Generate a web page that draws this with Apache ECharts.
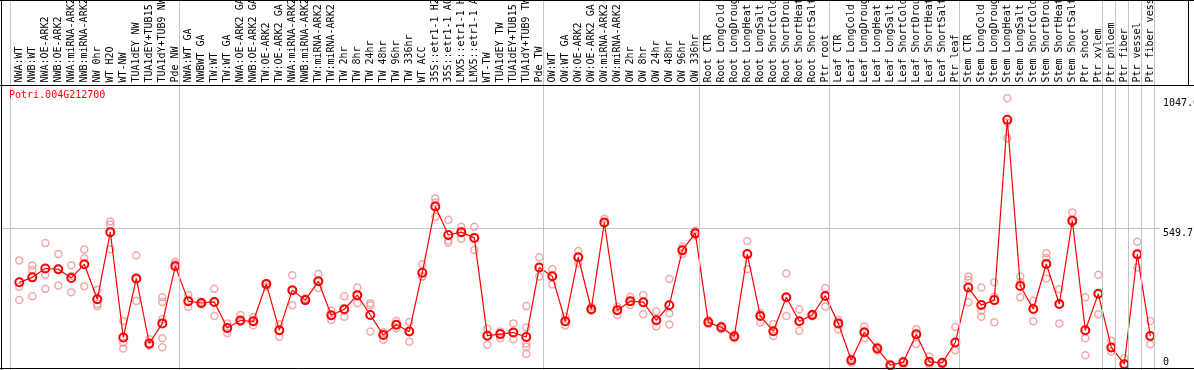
<!DOCTYPE html>
<html><head><meta charset="utf-8">
<script src="https://cdn.jsdelivr.net/npm/echarts@6/dist/echarts.min.js"></script>
<style>html,body{margin:0;padding:0;background:#fff;}#c{width:1194px;height:370px;}</style>
</head><body><div id="c"></div>
<script>
const geneId = 'Potri.004G212700';

const categories = [
  'NWA:WT','NWB:WT','NWA:OE-ARK2','NWB:OE-ARK2','NWA:miRNA-ARK2','NWB:miRNA-ARK2','NW 0hr','WT H2O','WT-NW',
  'TUA1dEY NW','TUA1dEY+TUB15 NW','TUA1dY+TUB9 NW','Pde NW',
  'NWA:WT GA','NWBWT GA','TW:WT','TW:WT GA','NWA:OE-ARK2 GA','NWB:OE-ARK2 GA','TW:OE-ARK2','TW:OE-ARK2 GA',
  'NWA:miRNA-ARK2','NWB:miRNA-ARK2','TW:miRNA-ARK2','TW:miRNA-ARK2','TW 2hr','TW 8hr','TW 24hr','TW 48hr',
  'TW 96hr','TW 336hr','WT ACC','35S::etr1-1 H2O','35S::etr1-1 ACC','LMX5::etr1-1 H2O','LMX5::etr1-1 ACC',
  'WT-TW','TUA1dEY TW','TUA1dEY+TUB15 TW','TUA1dY+TUB9 TW','Pde TW',
  'OW:WT','OW:WT GA','OW:OE-ARK2','OW:OE-ARK2 GA','OW:miRNA-ARK2','OW:miRNA-ARK2','OW 2hr','OW 8hr','OW 24hr',
  'OW 48hr','OW 96hr','OW 336hr',
  'Root CTR','Root LongCold','Root LongDrought','Root LongHeat','Root LongSalt','Root ShortCold',
  'Root ShortDrought','Root ShortHeat','Root ShortSalt','Ptr root',
  'Leaf CTR','Leaf LongCold','Leaf LongDrought','Leaf LongHeat','Leaf LongSalt','Leaf ShortCold',
  'Leaf ShortDrought','Leaf ShortHeat','Leaf ShortSalt','Ptr leaf',
  'Stem CTR','Stem LongCold','Stem LongDrought','Stem LongHeat','Stem LongSalt','Stem ShortCold',
  'Stem ShortDrought','Stem ShortHeat','Stem ShortSalt','Ptr shoot',
  'Ptr xylem','Ptr phloem','Ptr fiber','Ptr vessel','Ptr fiber vessel'
];

const means = [
  343,362,396,393,360,412,278,535,132,358,109,186,405,
  271,264,268,168,197,194,337,160,313,275,347,217,240,294,218,142,181,155,380,633,524,535,513,139,145,151,134,400,
  366,194,439,240,572,236,271,267,198,255,466,531,
  190,171,136,451,214,156,286,194,218,291,
  186,45,152,90,26,37,144,39,35,113,
  323,256,275,965,329,241,413,260,579,160,
  299,94,30,450,138
];

const replicates = [
  [427,325,275],[407,390,290],[493,372,318],[451,395,331],[408,367,305],[469,435,328],[314,260,252],
  [576,563,470],[195,112,90],[446,356,272],[125,103,101],[286,268,202,129,95],[422,413,405],
  [295,271,250],[269,264,259],[318,268,214],[186,168,148],[218,191,197],[209,194,179],[339,337,326],
  [183,160,135],[370,313,255],[282,277,275],[375,347,321],[234,217,199],[290,240,211],[323,294,263],
  [263,255,155],[152,142,123],[196,181,167],[191,155,116],[412,365,365],[664,648,594],[582,494,503],
  [556,535,510],[556,513,467],[166,139,104],[155,145,129],[186,151,125],[252,170,109,97,69],[439,400,365],
  [393,366,335],[211,194,178],[463,439,416],[250,240,234],[586,572,569],[250,236,218],[288,271,256],
  [295,267,221],[232,198,174],[356,225,182],[479,451,466],[540,531,522],
  [198,190,184],[177,171,164],[143,136,129],[501,451,393],[225,214,189],[183,156,138],[377,286,214],
  [240,194,158],[223,218,213],[321,291,251],
  [199,186,163],[52,45,35],[174,152,129],[97,90,82],[28,26,24],[42,37,26],[164,144,107],[59,39,28],
  [37,35,31],[172,113,83],
  [365,352,267],[323,234,211],[343,288,190],[1047,954,894],[365,286,343],[273,194,241],[454,358,436],
  [317,186,260],[610,579,571],[286,129,64],
  [372,221,299],[120,78,94],[53,30,30],[498,400,450],[195,106,138]
];

// category boundaries where grey group separators are drawn
const groupBounds = [0,13,41,53,63,73,84,85,86,87,88];

const yMax = 1099.4;
const yTickValues = [549.7, 1047.0];
const yZeroTick = [0];

const replicatePoints = [];
replicates.forEach((reps, i) => reps.forEach(v => replicatePoints.push([i, v])));

const mono = 'DejaVu Sans Mono';
const chart = echarts.init(document.getElementById('c'), null, {renderer: 'canvas'});

const gridBase = {containLabel: false, outerBoundsMode: 'none'};

const option = {
  animation: false,
  backgroundColor: '#ffffff',
  title: {
    text: geneId, left: 9, top: 90, padding: 0,
    textStyle: {color: '#ff0000', fontFamily: mono, fontSize: 10, fontWeight: 'normal'}
  },
  grid: [
    Object.assign({left: 12.8, top: 84.6, width: 1144, height: 287.4}, gridBase),
    Object.assign({left: 10.7, top: 0, width: 1144, height: 370}, gridBase),
    Object.assign({left: 2, top: 84.6, width: 1158, height: 287.4}, gridBase)
  ],
  xAxis: [
    {
      gridIndex: 0, type: 'category', data: categories, position: 'top', boundaryGap: true,
      axisLine: {show: false}, axisTick: {show: false}, splitLine: {show: false},
      axisLabel: {interval: 0, rotate: 90, margin: 2, fontFamily: mono, fontSize: 10, color: '#000'}
    },
    {gridIndex: 1, type: 'value', min: 0, max: 88, show: false},
    {gridIndex: 2, type: 'value', min: 0, max: 1, show: false}
  ],
  yAxis: [
    {gridIndex: 0, type: 'value', min: 0, max: yMax, show: false},
    {gridIndex: 1, type: 'value', min: 0, max: 1, show: false},
    {
      gridIndex: 2, type: 'value', min: 0, max: yMax, interval: yMax / 2, position: 'right',
      axisLine: {show: false}, axisTick: {show: false},
      splitLine: {show: true, showMinLine: false, showMaxLine: false, lineStyle: {color: '#c4c4c4', width: 1}},
      axisLabel: {
        customValues: yTickValues, margin: 3, verticalAlign: 'top', align: 'left',
        fontFamily: mono, fontSize: 10, color: '#000',
        formatter: v => Number(v).toFixed(1)
      }
    },
    {
      gridIndex: 2, type: 'value', min: 0, max: yMax, position: 'right',
      axisLine: {show: false}, axisTick: {show: false}, splitLine: {show: false},
      axisLabel: {
        customValues: yZeroTick, margin: 3, verticalAlign: 'bottom', align: 'left', padding: [0, 0, 5, 0],
        fontFamily: mono, fontSize: 10, color: '#000',
        formatter: v => String(v)
      }
    }
  ],
  series: [
    {
      type: 'scatter', xAxisIndex: 1, yAxisIndex: 1, data: [[0, -1]], symbolSize: 0, silent: true,
      markLine: {
        silent: true, symbol: ['none', 'none'], label: {show: false},
        lineStyle: {color: '#c4c4c4', width: 1, type: 'solid'},
        data: groupBounds.map(b => ({xAxis: b}))
      }
    },
    {
      type: 'scatter', xAxisIndex: 0, yAxisIndex: 0, data: replicatePoints, z: 2,
      symbol: 'circle', symbolSize: 7,
      itemStyle: {color: 'rgba(255,255,255,0)', borderColor: '#f09494', borderWidth: 1.5}
    },
    {
      type: 'line', xAxisIndex: 0, yAxisIndex: 0, data: means, z: 3,
      symbol: 'circle', symbolSize: 8, showAllSymbol: true,
      lineStyle: {color: '#ff0000', width: 1.2},
      itemStyle: {color: 'rgba(255,255,255,0)', borderColor: '#ff0000', borderWidth: 2}
    }
  ],
  graphic: [
    {type: 'line', z: 100, shape: {x1: 0, y1: 0.5, x2: 1194, y2: 0.5}, style: {stroke: '#000', lineWidth: 1}},
    {type: 'line', z: 100, shape: {x1: 0, y1: 85.5, x2: 1194, y2: 85.5}, style: {stroke: '#000', lineWidth: 1}},
    {type: 'line', z: 100, shape: {x1: 1.5, y1: 0, x2: 1.5, y2: 370}, style: {stroke: '#000', lineWidth: 1}},
    {type: 'line', z: 100, shape: {x1: 1188.5, y1: 0, x2: 1188.5, y2: 85}, style: {stroke: '#000', lineWidth: 1}},
    {type: 'line', z: 100, shape: {x1: 0, y1: 368.5, x2: 1194, y2: 368.5}, style: {stroke: '#000', lineWidth: 1}}
  ]
};
chart.setOption(option);
</script>
</body></html>
